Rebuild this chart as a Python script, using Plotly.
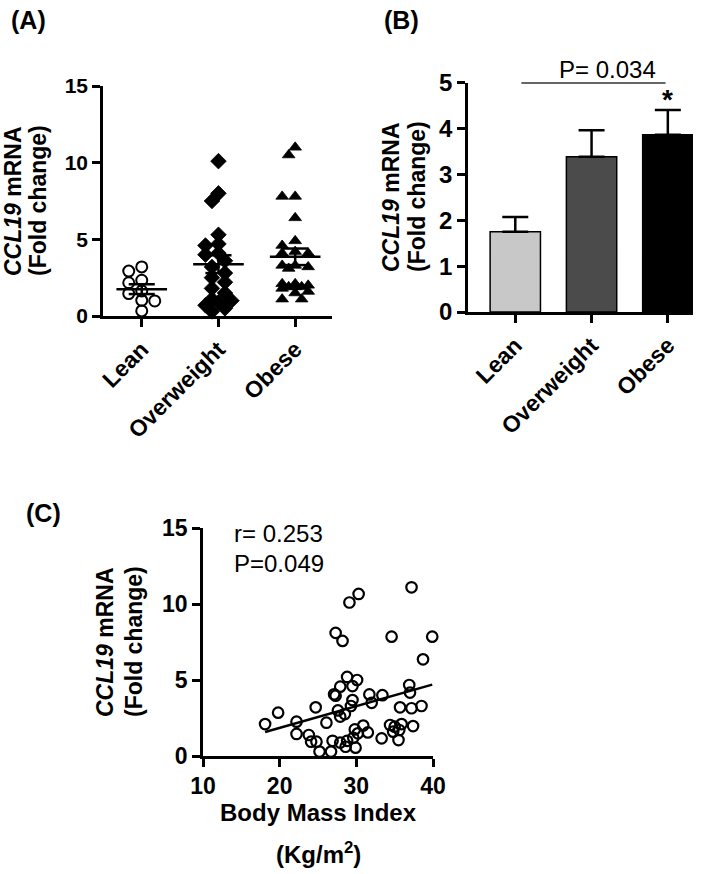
import numpy as np
import plotly.graph_objects as go

# ---------------- data ----------------
groups = ["Lean", "Overweight", "Obese"]
lean_vals = [3.2, 2.93, 2.33, 2.17, 1.63, 1.46, 1.02, 0.98, 0.33]
overweight_vals = [10.1, 8.0, 7.5, 5.3, 4.7, 4.6, 4.1, 4.0, 3.6, 3.2, 2.8, 2.5,
                   2.2, 1.8, 1.5, 1.0, 0.9, 1.1, 0.7, 0.5, 0.3]
obese_vals = [11.0, 10.5, 7.8, 7.8, 6.4, 4.9, 4.6, 4.1, 4.2, 4.1, 3.3, 3.1, 3.2,
              3.3, 2.1, 1.9, 1.8, 2.0, 1.9, 2.1, 1.9, 1.5, 1.1, 1.1, 1.6]
group_mean = [1.75, 3.38, 3.86]
group_sem = [0.32, 0.58, 0.54]
bar_colors = ["#c8c8c8", "#4b4b4b", "#000000"]

bmi = [18.1, 19.8, 22.2, 22.2, 23.8, 24.1, 24.7, 24.8, 25.2, 26.1, 26.7, 26.9,
       27.1, 27.3, 27.3, 27.6, 27.9, 27.9, 27.9, 28.2, 28.5, 28.6, 28.8, 28.8,
       29.1, 29.3, 29.5, 29.5, 29.6, 29.8, 29.9, 30.1, 30.2, 30.3, 30.9, 31.5,
       31.7, 32.0, 33.3, 33.4, 34.4, 34.6, 34.8, 35.0, 35.5, 35.6, 35.7, 35.9,
       36.9, 37.0, 37.2, 37.2, 37.4, 38.5, 38.7, 39.9]
ccl19 = [2.1, 2.85, 2.26, 1.45, 1.38, 0.94, 3.2, 0.94, 0.29, 2.19, 0.29, 1.0,
         4.06, 3.97, 8.1, 3.0, 4.56, 2.59, 0.88, 7.57, 2.76, 0.61, 5.2, 1.0,
         10.1, 3.29, 4.6, 3.68, 1.2, 1.75, 0.55, 5.0, 1.49, 10.66, 2.0, 1.55,
         4.05, 3.5, 1.16, 4.0, 2.04, 7.85, 1.6, 1.93, 1.05, 1.71, 3.2, 2.1,
         4.67, 4.17, 11.1, 3.14, 1.97, 3.29, 6.36, 7.85]

r_text = "r= 0.253"
p_text_c = "P=0.049"
p_text_b = "P= 0.034"

W, H = 709, 874
FONT = "Liberation Sans, Arial, sans-serif"


def px(x):
    return x / W


def py(y):
    return 1 - y / H


def swarm(vals, center, ypx_per_unit, xpx_per_unit, d=9.0, step=6.5, kmax=2):
    """Deterministic column-scatter layout (offsets in pixels)."""
    placed = []
    xs = [0.0] * len(vals)
    order = sorted(range(len(vals)), key=lambda i: -vals[i])
    cands = [0.0]
    for k in range(1, kmax + 1):
        cands += [-k * step, k * step]
    for i in order:
        best, best_d = None, -1
        for c in cands:
            dmin = min([((c - p0) ** 2 + ((vals[i] - v0) * ypx_per_unit) ** 2) ** 0.5
                        for p0, v0 in placed] or [1e9])
            if dmin >= d:
                best = c
                break
            if dmin > best_d:
                best_d, best = dmin, c
        placed.append((best, vals[i]))
        xs[i] = center + best / xpx_per_unit
    return xs


fig = go.Figure()

# ---------------- Panel A ----------------
A_ypx = 230 / 15.0
A_xpx = 76.7
symbols = ["circle-open", "diamond", "triangle-up"]
sizes = [11, 12, 11]
for gi, vals in enumerate([lean_vals, overweight_vals, obese_vals]):
    xs = swarm(vals, gi, A_ypx, A_xpx)
    fig.add_trace(go.Scatter(
        x=xs, y=vals, mode="markers", xaxis="x", yaxis="y",
        marker=dict(symbol=symbols[gi], size=sizes[gi], color="black",
                    line=dict(color="black", width=2.0 if gi == 0 else 0.8)),
        showlegend=False, cliponaxis=False))

lx, ly = [], []
for gi, (m, s) in enumerate(zip(group_mean, group_sem)):
    lx += [gi - 0.33, gi + 0.33, None, gi - 0.17, gi + 0.17, None,
           gi - 0.17, gi + 0.17, None, gi, gi, None]
    ly += [m, m, None, m + s, m + s, None, m - s, m - s, None, m - s, m + s, None]
fig.add_trace(go.Scatter(x=lx, y=ly, mode="lines", xaxis="x", yaxis="y",
                         line=dict(color="black", width=2.5), showlegend=False))

# ---------------- Panel B ----------------
fig.add_trace(go.Bar(
    x=[0, 1, 2], y=group_mean, xaxis="x2", yaxis="y2", width=0.66,
    marker=dict(color=bar_colors, line=dict(color="black", width=1.5)),
    error_y=dict(type="data", symmetric=False, array=group_sem,
                 arrayminus=[0, 0, 0], color="black", thickness=2.5, width=13),
    showlegend=False))

# ---------------- Panel C ----------------
fig.add_trace(go.Scatter(
    x=bmi, y=ccl19, mode="markers", xaxis="x3", yaxis="y3",
    marker=dict(symbol="circle-open", size=10.5, color="black",
                line=dict(color="black", width=2.2)),
    showlegend=False, cliponaxis=False))
slope, intercept = np.polyfit(bmi, ccl19, 1)
fx = [min(bmi), max(bmi)]
fy = [slope * v + intercept for v in fx]
fig.add_trace(go.Scatter(x=fx, y=fy, mode="lines", xaxis="x3", yaxis="y3",
                         line=dict(color="black", width=2.5), showlegend=False))

# ---------------- axes ----------------
axis_common = dict(showline=True, linecolor="black", linewidth=2.5,
                   ticks="outside", ticklen=8, tickwidth=2.5, tickcolor="black",
                   showgrid=False, zeroline=False, automargin=False)

fig.update_layout(
    width=W, height=H, margin=dict(l=0, r=0, t=0, b=0, autoexpand=False),
    paper_bgcolor="white", plot_bgcolor="white",
    font=dict(family=FONT, color="black"),
    xaxis=dict(axis_common, domain=[px(103), px(332)], range=[-0.505, 2.48],
               tickvals=[0, 1, 2], ticktext=groups, tickangle=-45,
               tickfont=dict(family=FONT, size=23, weight="bold"), anchor="y"),
    yaxis=dict(axis_common, domain=[py(316), py(86)], range=[0, 15],
               tickvals=[0, 5, 10, 15],
               tickfont=dict(family=FONT, size=21, weight="bold"), anchor="x"),
    xaxis2=dict(axis_common, domain=[px(468), px(693)], range=[-0.62, 2.33],
                tickvals=[0, 1, 2], ticktext=groups, tickangle=-45,
                tickfont=dict(family=FONT, size=23, weight="bold"), anchor="y2"),
    yaxis2=dict(axis_common, domain=[py(312), py(82.5)], range=[0, 5],
                tickvals=[0, 1, 2, 3, 4, 5],
                tickfont=dict(family=FONT, size=24, weight="bold"), anchor="x2"),
    xaxis3=dict(axis_common, domain=[px(203), px(433)], range=[10, 40],
                tickvals=[10, 20, 30, 40],
                tickfont=dict(family=FONT, size=23, weight="bold"), anchor="y3"),
    yaxis3=dict(axis_common, domain=[py(756), py(528)], range=[0, 15],
                tickvals=[0, 5, 10, 15],
                tickfont=dict(family=FONT, size=23, weight="bold"), anchor="x3"),
)

# significance line over panel B (data x, paper y so it is not clipped)
fig.add_shape(type="line", xref="x2", yref="paper", x0=0.08, x1=1.97,
              y0=py(83), y1=py(83), line=dict(color="#333333", width=1.5))

# ---------------- annotations ----------------
ann = []


def txt(text, x, y, size, angle=0, xanchor="center", yanchor="middle"):
    ann.append(dict(text=text, x=px(x), y=py(y), xref="paper", yref="paper",
                    showarrow=False, textangle=angle, xanchor=xanchor,
                    yanchor=yanchor, font=dict(family=FONT, size=size, color="black")))


# panel letters
txt("<b>(A)</b>", 28, 20, 25)
txt("<b>(B)</b>", 401, 20, 25)
txt("<b>(C)</b>", 43, 513, 25)

# y titles
ylab1 = "<b><i>CCL19</i> mRNA</b>"
ylab2 = "<b>(Fold change)</b>"
txt(ylab1, 13, 201, 23, angle=-90)
txt(ylab2, 38, 201, 23, angle=-90)
txt(ylab1, 391, 197, 23, angle=-90)
txt(ylab2, 417, 197, 23, angle=-90)
txt(ylab1, 105, 642, 23, angle=-90)
txt(ylab2, 134, 642, 23, angle=-90)

# x title panel C
txt("<b>Body Mass Index</b>", 318, 812, 24)
txt("<b>(Kg/m<sup>2</sup>)</b>", 318, 853, 24)

# stats text
txt(r_text, 232, 533, 24, xanchor="left")
txt(p_text_c, 232, 563, 24, xanchor="left")
txt(p_text_b, 607, 69, 24)
ann.append(dict(text="<b>*</b>", x=2, y=group_mean[2] + group_sem[2], xref="x2", yref="y2",
                showarrow=False, yanchor="bottom", yshift=-7,
                font=dict(family=FONT, size=28, color="black")))

fig.update_layout(annotations=ann)
fig.write_html("out.html", config={"displayModeBar": False},
               post_script="document.body.style.margin='0';document.body.style.padding='0';")
